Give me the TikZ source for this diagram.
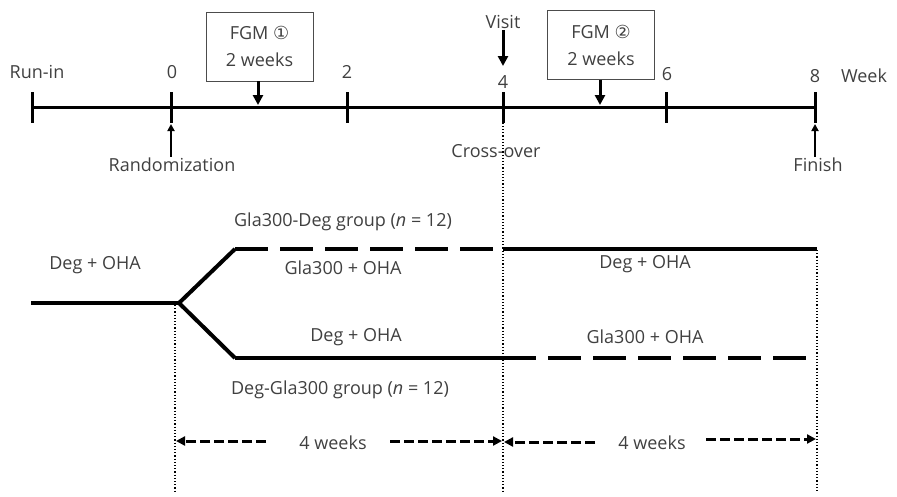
\documentclass[tikz,border=0pt]{standalone}
\usepackage{fontspec}
\setmainfont{Open Sans}
\newfontfamily\circfont{DejaVu Sans}
\usetikzlibrary{arrows.meta,positioning}

\tikzset{
  lbl/.style={font=\fontsize{18}{20}\selectfont, text=black!75, inner sep=1pt},
  axis/.style={line width=3pt},
  fgmbox/.style={draw=black!70, line width=0.8pt, minimum width=107pt, minimum height=69pt, align=center, lbl},
  bigarr/.style={line width=3pt, -{Triangle[length=10pt,width=10pt]}},
  smallarr/.style={line width=2pt, -{Triangle[length=7pt,width=7pt]}},
  guide/.style={line width=1.2pt, dotted},
  arm/.style={line width=4pt},
  armdash/.style={line width=4pt, dash pattern=on 33pt off 12pt},
  span/.style={line width=3pt, dash pattern=on 10pt off 4pt, -{Triangle[length=9pt,width=9pt]}}
}

\begin{document}
\begin{tikzpicture}[x=1pt,y=-1pt]
\useasboundingbox (0,0) rectangle (897,496);

% timeline
\coordinate (tr) at (32,107);
\coordinate (t0) at (171,107);
\coordinate (t2) at (347,107);
\coordinate (t4) at (503,107);
\coordinate (t6) at (666,107);
\coordinate (t8) at (815,107);
\draw[axis] (tr) -- (t8);
\foreach \t in {tr,t0,t2,t4,t6,t8}
  \draw[axis] (\t) ++(0,-15) -- ++(0,31);

\node[lbl] (runin) at (37,72) {Run-in};
\node[lbl] (w0) at (172,72) {0};
\node[lbl] (w2) at (347,72) {2};
\node[lbl] (w4) at (503,82) {4};
\node[lbl] (w6) at (667,74) {6};
\node[lbl] (w8) at (815,76) {8};
\node[lbl] (week) at (864,76) {Week};

% FGM periods
\node[fgmbox] (fgm1) at (259.5,46.5) {FGM {\circfont ①}\\[7pt]2 weeks};
\node[fgmbox] (fgm2) at (601,45) {FGM {\circfont ②}\\[7pt]2 weeks};
\draw[bigarr] (fgm1.south -| 258,0) -- (258,105);
\draw[bigarr] (fgm2.south -| 600,0) -- (600,105);

\node[lbl] (visit) at (503,22) {Visit};
\draw[bigarr] (visit.south) -- (503,66);

\node[lbl] (rand) at (172,165) {Randomization};
\draw[smallarr] (rand.north -| t0) -- (171,124);
\node[lbl] (finish) at (818,165) {Finish};
\draw[smallarr] (finish.north -| t8) -- (815,124);
\node[lbl] (cross) at (496,151) {Cross-over};

% guides
\draw[guide] (503,113) -- (503,493);
\draw[guide] (175,305) -- (175,493);
\draw[guide] (817,250) -- (817,493);

% treatment arms
\coordinate (start) at (31,303);
\coordinate (split) at (179,303);
\coordinate (upA) at (235,249);
\coordinate (upB) at (503,249);
\coordinate (upC) at (817,249);
\coordinate (loA) at (235,358);
\coordinate (loB) at (503,358);
\coordinate (loC) at (817,358);
\draw[arm, line join=miter] (upA) -- (split) -- (loA);
\draw[arm] (start) -- (split);
\draw[armdash] (upA) -- (upB);
\draw[arm] (upB) -- (upC);
\draw[arm] (loA) -- (loB);
\draw[armdash] (loB) -- (loC);

\node[lbl] (runtx) at (95,265) {Deg + OHA};
\node[lbl] (grpA) at (343,222) {Gla300-Deg group (\textit{n} = 12)};
\node[lbl] (a1) at (343,268) {Gla300 + OHA};
\node[lbl] (a2) at (645,264) {Deg + OHA};
\node[lbl] (b1) at (356,337) {Deg + OHA};
\node[lbl] (b2) at (645,337) {Gla300 + OHA};
\node[lbl] (grpB) at (340,390) {Deg-Gla300 group (\textit{n} = 12)};

% durations
\node[lbl] (dur1) at (333,443) {4 weeks};
\node[lbl] (dur2) at (652,443) {4 weeks};
\draw[span] (266,441) -- (176,441);
\draw[span] (390,441) -- (502,441);
\draw[span] (595,442) -- (504,442);
\draw[span] (706,439) -- (816,439);
\end{tikzpicture}
\end{document}
